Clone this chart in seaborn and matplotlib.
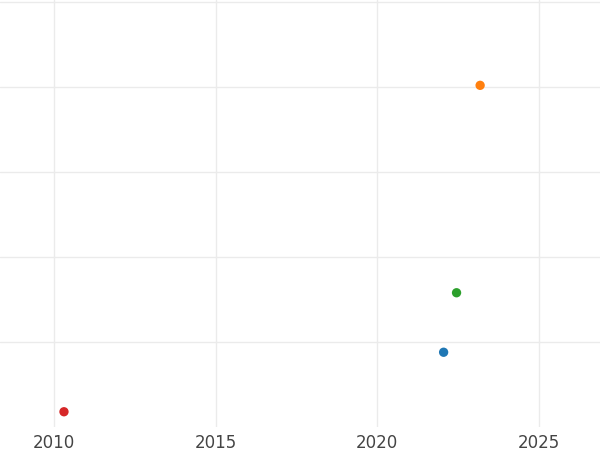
import matplotlib
matplotlib.use("Agg")
import matplotlib.pyplot as plt
import seaborn as sns
import pandas as pd

years = [2022.06, 2023.19, 2022.46, 2010.31]
values = [0.88, 4.02, 1.58, 0.18]
groups = ["A", "B", "C", "D"]
colors = ["#1f77b4", "#ff7f0e", "#2ca02c", "#d62728"]
xticks = [2010, 2015, 2020, 2025]

df = pd.DataFrame({"year": years, "value": values, "group": groups})

sns.set_theme(style="white")
plt.rcParams['font.family'] = ['DejaVu Sans']

fig = plt.figure(figsize=(6, 4.5), dpi=100)
ax = fig.add_axes([0, 0.051, 1, 0.949])
sns.scatterplot(data=df, x="year", y="value", hue="group", palette=colors,
                s=45, linewidth=0, legend=False, ax=ax, zorder=3)

ax.set_xlim(2008.33, 2026.9)
ax.set_ylim(0, 5.024)
ax.set_xticks(xticks)
ax.set_xticklabels([str(t) for t in xticks])
ax.set_yticks([1, 2, 3, 4, 5])
ax.set_yticklabels([])
ax.grid(True, color="#ebebeb", linewidth=1.0)
ax.set_axisbelow(True)
ax.tick_params(axis="x", length=0, labelsize=12, labelcolor="#444444", pad=5)
ax.tick_params(axis="y", length=0)
ax.set_xlabel("")
ax.set_ylabel("")
for s in ax.spines.values():
    s.set_visible(False)

fig.savefig("out.png", dpi=100)
